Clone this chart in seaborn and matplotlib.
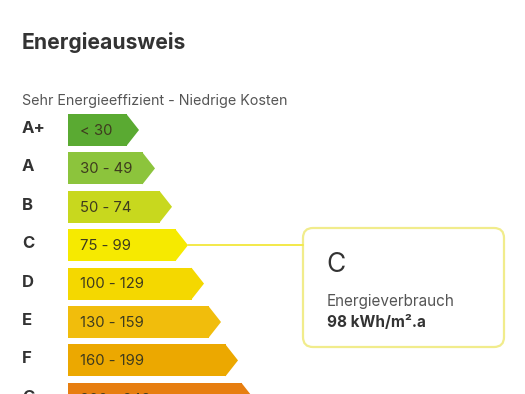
import matplotlib
matplotlib.use("Agg")
import matplotlib.pyplot as plt
import seaborn as sns
import pandas as pd
from matplotlib.patches import Polygon, FancyBboxPatch

classes = ["A+", "A", "B", "C", "D", "E", "F", "G"]
ranges = ["< 30", "30 - 49", "50 - 74", "75 - 99", "100 - 129", "130 - 159", "160 - 199", "200 - 249"]
bar_len = [59, 75, 92, 108, 124, 141, 158, 174]
colors = ["#5aaa32", "#8cc43c", "#c8d81e", "#f6ea00", "#f4d800", "#f1bd0c", "#eca800", "#e77e10"]
current_class = "C"
consumption_text = "98 kWh/m².a"

title = "Energieausweis"
subtitle = "Sehr Energieeffizient - Niedrige Kosten"

sns.set_theme(style="white")
plt.rcParams["font.family"] = ["Inter", "DejaVu Sans"]

W, H = 525, 394
fig = plt.figure(figsize=(W / 100, H / 100), dpi=100)
fig.patch.set_facecolor("white")

ax = fig.add_axes([0, 0, 1, 1])
df = pd.DataFrame({"cls": classes, "len": bar_len})
sns.barplot(data=df, x="len", y="cls", hue="cls", palette=colors, orient="h",
            width=0.833, legend=False, ax=ax, saturation=1, linewidth=0)
pitch = 38.4
ax.set_xlim(-68, W - 68)
ax.set_ylim((H - 130) / pitch, -130 / pitch)
ax.axis("off")

tip = 12
for p in ax.patches:
    x, y, w, h = p.get_x(), p.get_y(), p.get_width(), p.get_height()
    ax.add_patch(Polygon([(x + w - 0.6, y), (x + w + tip, y + h / 2), (x + w - 0.6, y + h)],
                         closed=True, facecolor=p.get_facecolor(), lw=0))

for i, (c, r) in enumerate(zip(classes, ranges)):
    ax.text(12, i + 0.02, r, va="center", ha="left", fontsize=10.7, color="#3e3b1e")
    ax.text(-46, i - 0.04, c, va="center", ha="left", fontsize=12, fontweight="bold", color="#333333")

# overlay axes in pixel coordinates
ax2 = fig.add_axes([0, 0, 1, 1], zorder=5)
ax2.set_xlim(0, W)
ax2.set_ylim(H, 0)
ax2.axis("off")
ax2.patch.set_alpha(0)

ax2.text(22, 49, title, fontsize=15.2, fontweight="bold", color="#333333", va="baseline")
ax2.text(22, 105, subtitle, fontsize=10.3, color="#555555", va="baseline")

ci = classes.index(current_class)
pc = ax.patches[ci]
tip_disp = ax.transData.transform((pc.get_x() + pc.get_width() + tip, pc.get_y() + pc.get_height() / 2))
tx, ty = ax2.transData.inverted().transform(tip_disp)

bx, by, bw, bh = 303, 228, 201, 119
ax2.plot([tx, bx], [ty, ty], color="#f3e94a", lw=1.4)
ax2.add_patch(FancyBboxPatch((bx, by), bw, bh, boxstyle="round,pad=0,rounding_size=10",
                             facecolor="white", edgecolor="#f1ec8c", lw=1.6))
ax2.text(326, 272, current_class, fontsize=19, color="#333333", va="baseline")
ax2.text(327, 306, "Energieverbrauch", fontsize=11, color="#555555", va="baseline")
ax2.text(327, 327, consumption_text, fontsize=11, fontweight="bold", color="#333333", va="baseline")

fig.savefig("out.png", dpi=100, facecolor="white")
